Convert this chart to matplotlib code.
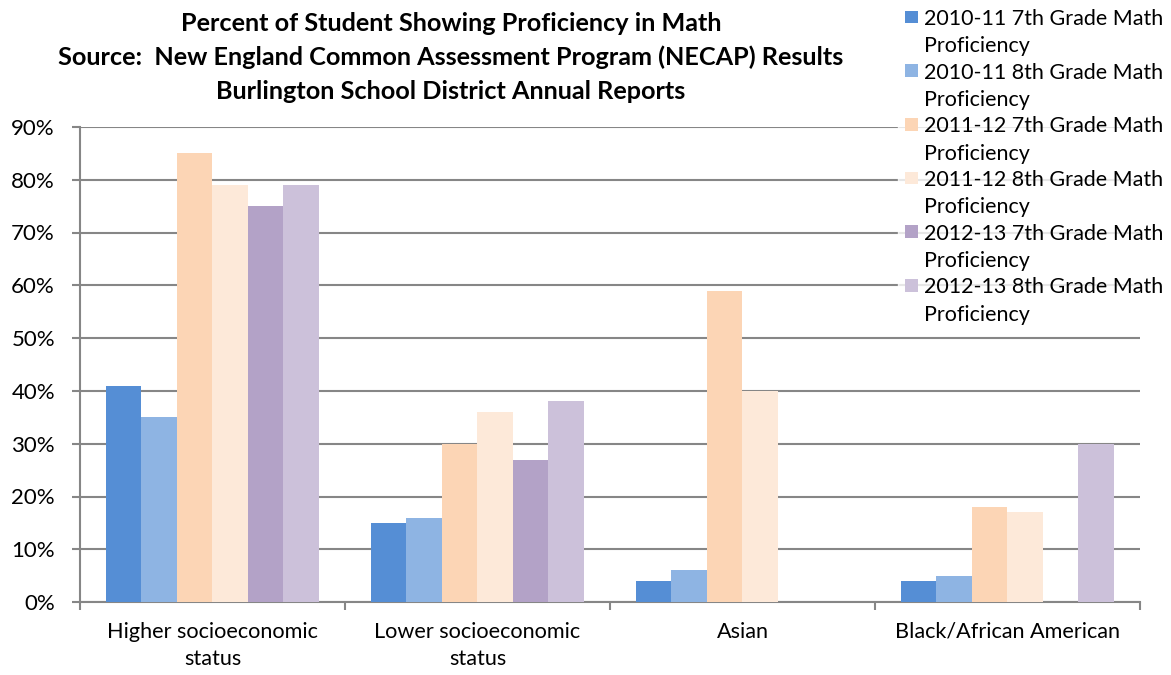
import numpy as np
import matplotlib.pyplot as plt
from matplotlib.ticker import MultipleLocator, FuncFormatter
from matplotlib.patches import Rectangle
from matplotlib.container import BarContainer
from matplotlib.legend_handler import HandlerPatch, update_from_first_child

plt.rcParams['font.family'] = ['Lato', 'DejaVu Sans']

categories = ["Higher socioeconomic\nstatus", "Lower socioeconomic\nstatus",
              "Asian", "Black/African American"]
series = ["2010-11 7th Grade Math\nProficiency", "2010-11 8th Grade Math\nProficiency",
          "2011-12 7th Grade Math\nProficiency", "2011-12 8th Grade Math\nProficiency",
          "2012-13 7th Grade Math\nProficiency", "2012-13 8th Grade Math\nProficiency"]
g1011_7 = [41, 15, 4, 4]
g1011_8 = [35, 16, 6, 5]
g1112_7 = [85, 30, 59, 18]
g1112_8 = [79, 36, 40, 17]
g1213_7 = [75, 27, 0, 0]
g1213_8 = [79, 38, 0, 30]
values = [g1011_7, g1011_8, g1112_7, g1112_8, g1213_7, g1213_8]
colors = ["#558ED5", "#8EB4E3", "#FCD5B5", "#FDE9D9", "#B3A2C7", "#CCC1DA"]

fig = plt.figure(figsize=(11.71, 6.75), dpi=100)
ax = fig.add_axes([0.0683, 0.108, 0.9052, 0.704])

x = np.arange(len(categories))
w = 0.134
for i, vals in enumerate(values):
    ax.bar(x + (i - 2.5) * w, vals, w, color=colors[i], label=series[i], zorder=3)

grid_c = "#868686"
ax.set_xlim(-0.5, 3.5)
ax.set_ylim(0, 90)
ax.yaxis.set_major_locator(MultipleLocator(10))
ax.yaxis.set_major_formatter(FuncFormatter(lambda v, p: "%d%%" % v))
ax.grid(axis='y', color=grid_c, linewidth=1.5, zorder=0)
ax.set_axisbelow(True)
for s in ['top', 'right']:
    ax.spines[s].set_visible(False)
for s in ['left', 'bottom']:
    ax.spines[s].set_color(grid_c)
    ax.spines[s].set_linewidth(1.5)

ax.set_xticks(x)
ax.set_xticklabels(categories, fontsize=15.6, linespacing=1.45)
ax.set_xticks(np.arange(-0.5, 4, 1), minor=True)
ax.tick_params(axis='x', which='major', length=0, pad=14)
ax.tick_params(axis='x', which='minor', length=6, width=1.5, color=grid_c)
ax.tick_params(axis='y', length=6, width=1.5, color=grid_c, labelsize=16, pad=12)

fig.text(0.385, 0.982,
         "Percent of Student Showing Proficiency in Math\n"
         "Source:  New England Common Assessment Program (NECAP) Results\n"
         "Burlington School District Annual Reports",
         ha='center', va='top', fontsize=18.2, fontweight='bold', linespacing=1.55)


# square sitting next to the first line of each two-line label
def top_square(legend, orig_handle, xdescent, ydescent, width, height, fontsize):
    s = 0.58 * fontsize
    return Rectangle((-xdescent + width - s, -ydescent + height - s + 0.3 * fontsize), s, s)


leg = fig.legend(loc='upper left', bbox_to_anchor=(0.758, 1.012), frameon=True,
                 fontsize=15.5, handlelength=0.6, handleheight=2.0,
                 handletextpad=0.3, labelspacing=0.3, borderpad=0.3,
                 handler_map={BarContainer: HandlerPatch(patch_func=top_square,
                                                         update_func=update_from_first_child)})
leg.get_frame().set_facecolor('white')
leg.get_frame().set_edgecolor('white')
for t in leg.get_texts():
    t.set_linespacing(1.45)

fig.savefig("out.png", dpi=100)
